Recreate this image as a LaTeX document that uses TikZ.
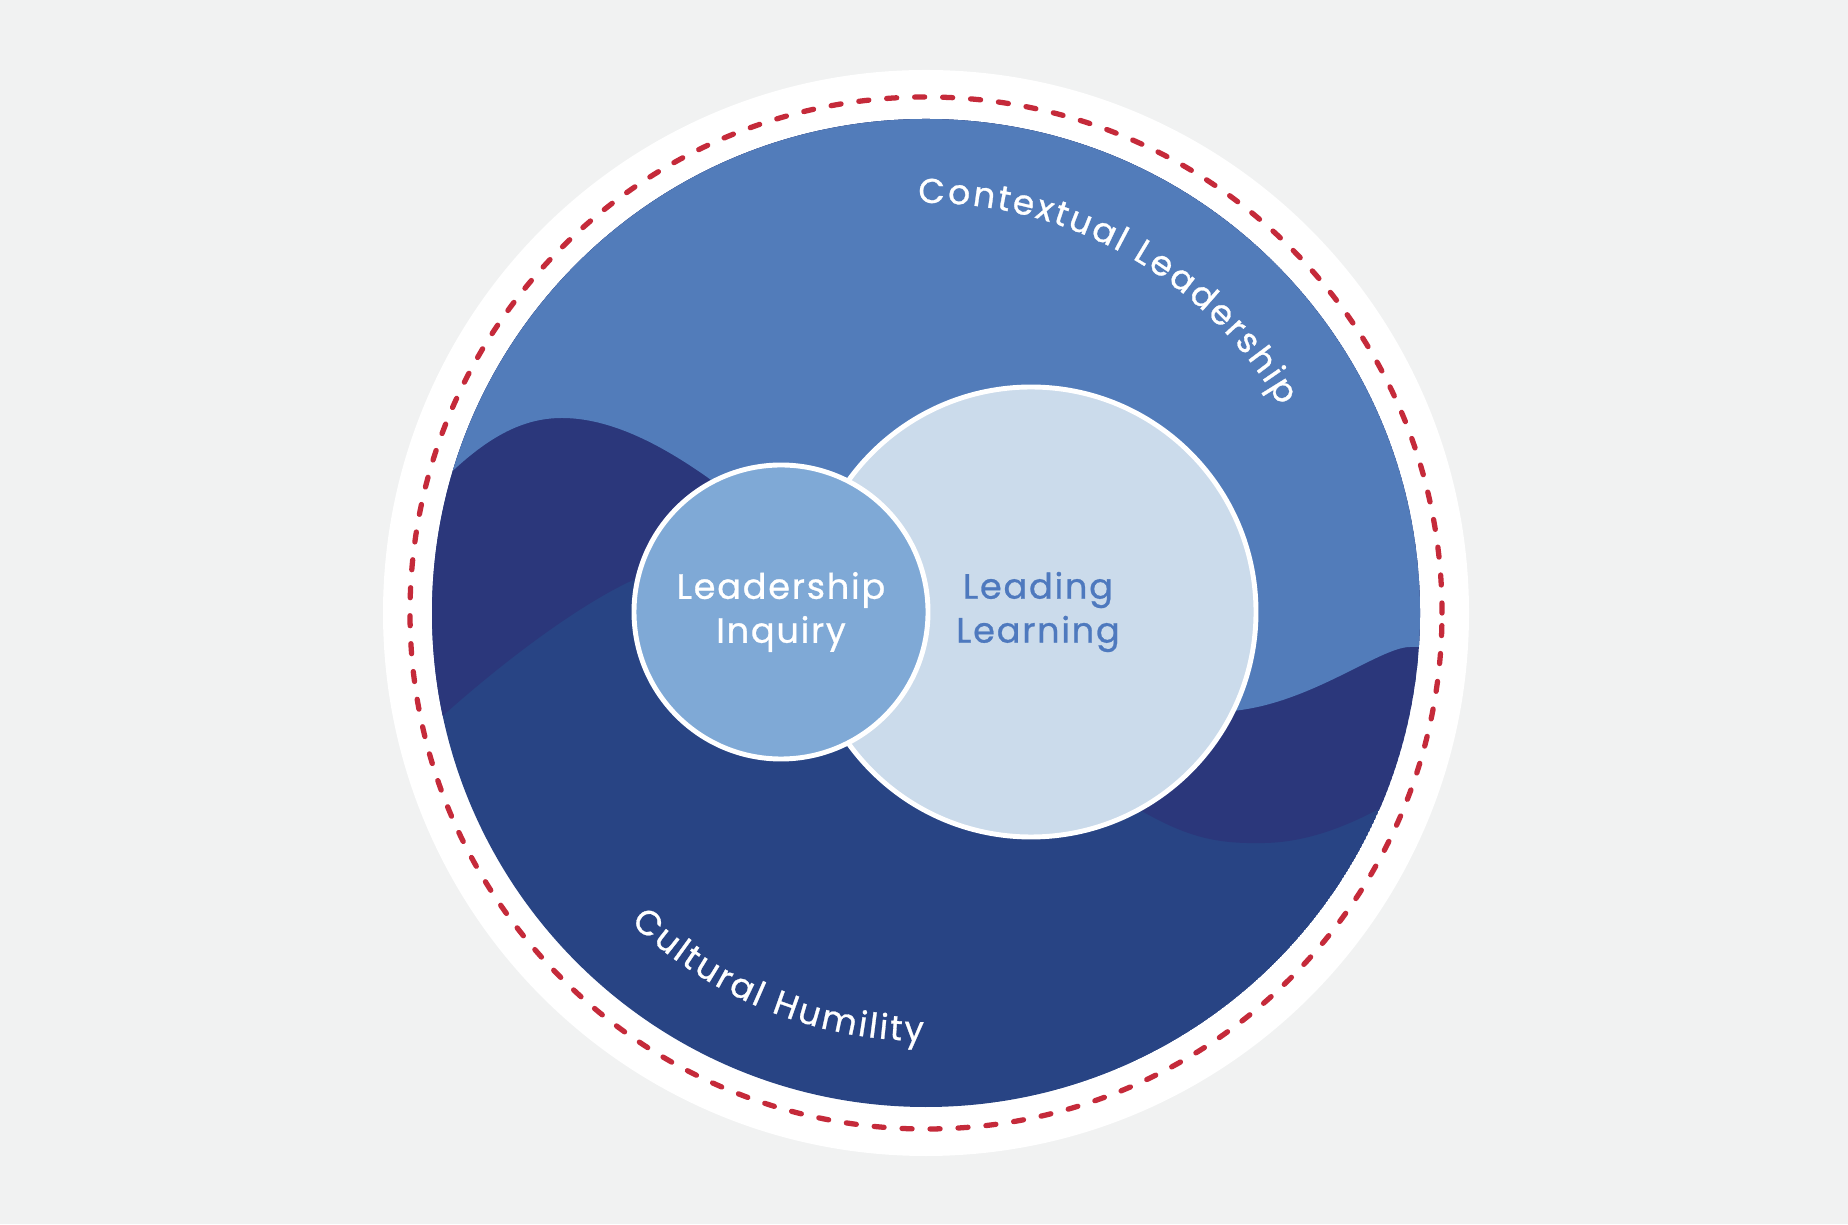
\documentclass[tikz,border=0pt]{standalone}
\usepackage{fontspec}
\setmainfont{Poppins}
\newfontfamily\labelfont{Poppins}[LetterSpace=5, FakeBold=0.8]
\newfontfamily\curvefont{Poppins}[FakeBold=0.8]
\usetikzlibrary{decorations.text}

\definecolor{paper}{HTML}{F1F2F2}
\definecolor{bluetop}{HTML}{527CBA}
\definecolor{navymid}{HTML}{2B377B}
\definecolor{navylow}{HTML}{284484}
\definecolor{midblue}{HTML}{7FA9D6}
\definecolor{paleblue}{HTML}{CBDBEB}
\definecolor{learntext}{HTML}{4E79BE}
\definecolor{redline}{HTML}{C52A3A}

\begin{document}
\begin{tikzpicture}[bubble/.style={circle, draw=white, line width=1.4pt, align=center,
    font=\labelfont\fontsize{10}{12.5}\selectfont},
  arctext/.style={decorate, decoration={text effects along path, text={#1}, text align=center,
    text effects/.cd, text along path,
    characters={text=white, font=\curvefont\fontsize{9.8}{12}\selectfont},
    character widths={inner xsep=0.3pt}}}]
  \useasboundingbox (0,0) rectangle (18.48,12.24);
  \fill[paper] (0,0) rectangle (18.48,12.24);
  \coordinate (O) at (9.26,6.11);

  % outer ring
  \fill[white] (O) circle (5.43);
  \draw[redline, line width=1.5pt, line cap=round, dash pattern=on 1mm off 1.8mm] (O) circle (5.16);

  % waves
  \begin{scope}
    \clip (O) circle (4.94);
    \fill[navylow] (O) circle (4.94);
    \fill[navymid] (4.1,4.78) .. controls (4.8,5.45) and (5.7,6.15) .. (6.33,6.44)
      .. controls (8.0,7.0) and (10.3,4.6) .. (11.4,4.14)
      .. controls (11.9,3.85) and (12.2,3.8) .. (12.65,3.81)
      .. controls (13.1,3.82) and (13.6,4.0) .. (14.2,4.4)
      -- (15,4.4) -- (15,11.6) -- (4,11.6) -- (4,4.78) -- cycle;
    \fill[bluetop] (4.25,7.25) .. controls (4.8,7.85) and (5.2,8.06) .. (5.62,8.06)
      .. controls (6.1,8.06) and (6.6,7.8) .. (7.07,7.47)
      .. controls (8.5,6.4) and (11,5.0) .. (12.32,5.13)
      .. controls (13.1,5.2) and (13.8,5.77) .. (14.1,5.77)
      -- (15,5.77) -- (15,11.6) -- (4,11.6) -- (4,7.25) -- cycle;
  \end{scope}

  \path[arctext={Contextual Leadership}] (O) ++(100.7:4.1) arc (100.7:20.7:4.1);
  \path[arctext={Cultural Humility}] (O) ++(-150:4.28) arc (-150:-74:4.28);

  % circles
  \node[bubble, fill=paleblue, minimum size=4.5cm, text=learntext] (learning) at (10.31,6.12) {\hspace*{0.14cm}Leading\\\hspace*{0.14cm}Learning};
  \node[bubble, fill=midblue, minimum size=2.94cm, text=white] (inquiry) at (7.81,6.12) {Leadership\\Inquiry};
\end{tikzpicture}
\end{document}
